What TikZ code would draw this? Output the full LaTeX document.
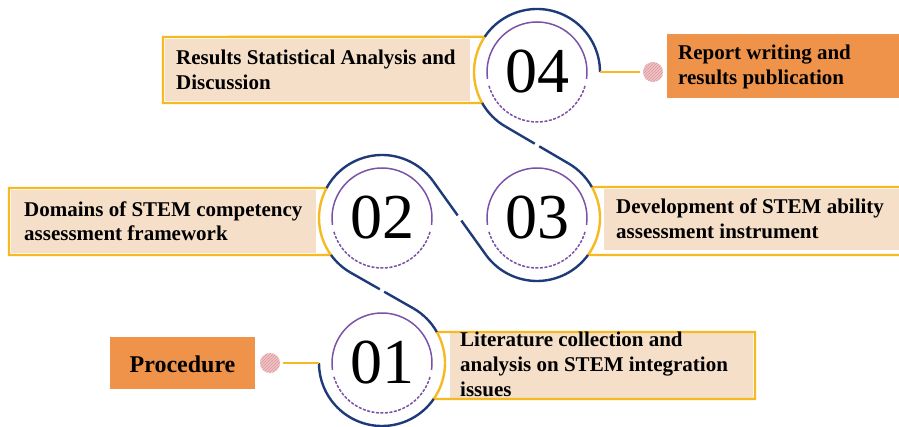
\documentclass[tikz,border=0pt]{standalone}
\usepackage{fontspec}
\setmainfont{Liberation Serif}
\usetikzlibrary{positioning,calc,patterns}
\definecolor{navy}{RGB}{30,58,120}
\definecolor{lilac}{RGB}{122,82,168}
\definecolor{gold}{RGB}{246,185,33}
\definecolor{beige}{RGB}{246,223,200}
\definecolor{tangerine}{RGB}{240,147,74}
\definecolor{rose}{RGB}{238,196,198}
\definecolor{rosedark}{RGB}{222,150,156}
\tikzset{lbl/.style={font=\fontsize{21}{25}\selectfont\bfseries, align=left, anchor=base west, inner sep=0pt},
  num/.style={font=\fontsize{64}{64}\selectfont, inner sep=0pt},
  ring/.style={navy, line width=2.4pt},
  brk/.style={gold, line width=2.4pt},
  halo/.style={lilac, line width=1.5pt},
  dot/.style={circle, minimum size=20pt, inner sep=0pt, fill=rose,
    postaction={pattern=north east lines, pattern color=rosedark}}}

\begin{document}
\begin{tikzpicture}[x=1pt,y=1pt]
\useasboundingbox (0,0) rectangle (899,426);
\coordinate (c1) at (382,63);
\coordinate (c2) at (382,208);
\coordinate (c3) at (537,208);
\coordinate (c4) at (537,354);

\fill[beige] (165,325) rectangle (470,387);
\fill[beige] (11,173) rectangle (316,236);
\fill[beige] (604,176) rectangle (899,237);
\fill[beige] (450,28) rectangle (753,93);
\fill[tangerine] (667,328) rectangle (899,392);
\fill[tangerine] (110,37) rectangle (255,89);

\draw[brk] (163,389) -- ($(c4)+(146:63)$) arc[start angle=146, end angle=209.5, radius=63] -- (163,323) -- cycle;
\draw[brk] (9,238) -- ($(c2)+(151.6:63)$) arc[start angle=151.6, end angle=216, radius=63] -- (9,171) -- cycle;
\draw[brk] (899,239) -- ($(c3)+(29.5:63)$) arc[start angle=29.5, end angle=-36, radius=63] -- (899,171);
\draw[brk] (755,94) -- ($(c1)+(29.5:63)$) arc[start angle=29.5, end angle=-34.8, radius=63] -- (755,27) -- cycle;

\coordinate (s1) at ($(c1)+(180:63)$);
\coordinate (b2) at ($(c2)+(240:63)$);
\coordinate (b3) at ($(c3)+(215.6:63)$);
\coordinate (b4) at ($(c4)+(240:63)$);
\draw[ring] (s1) arc[start angle=180, end angle=325.2, radius=63];
\draw[ring] ($(c1)+(29.5:63)$) arc[start angle=29.5, end angle=60, radius=63] coordinate (a1);
\draw[ring] (b2) arc[start angle=240, end angle=216, radius=63];
\draw[ring] ($(c2)+(151.6:63)$) arc[start angle=151.6, end angle=35.6, radius=63] coordinate (a2);
\draw[ring] (b3) arc[start angle=215.6, end angle=324, radius=63];
\draw[ring] ($(c3)+(29.5:63)$) arc[start angle=29.5, end angle=60, radius=63] coordinate (a3);
\draw[ring] (b4) arc[start angle=240, end angle=209.5, radius=63];
\draw[ring] ($(c4)+(146:63)$) arc[start angle=146, end angle=0, radius=63] coordinate (e4);
\foreach \p/\q in {a1/b2, a2/b3, a3/b4} {
  \draw[ring] (\p) -- ($(\p)!0.465!(\q)$);
  \draw[ring] ($(\p)!0.535!(\q)$) -- (\q);
}

\foreach \c in {c1,c2,c3,c4} {
  \draw[halo] ($(\c)+(-8:50)$) arc[start angle=-8, end angle=188, radius=50];
  \draw[halo, dash pattern=on 3pt off 1.5pt] ($(\c)+(196:50)$) arc[start angle=196, end angle=344, radius=50];
}
\node[num] (n1) at (c1) {01};
\node[num] (n2) at (c2) {02};
\node[num] (n3) at (c3) {03};
\node[num] (n4) at (c4) {04};

\node[dot] (d4) at (653,354) {};
\node[dot] (d1) at (270,63) {};
\draw[brk, shorten >=3pt] (e4) -- (d4);
\draw[brk, shorten <=3pt] (d1) -- (s1);

\node[lbl] (t4) at (176,336) {Results Statistical Analysis and\\Discussion};
\node[lbl] (t5) at (678,341) {Report writing and\\results publication};
\node[lbl] (t2) at (24,185) {Domains of STEM competency\\assessment framework};
\node[lbl] (t3) at (616,187) {Development of STEM ability\\assessment instrument};
\node[lbl] (t1) at (460,30) {Literature collection and\\analysis on STEM integration\\issues};
\node[lbl, anchor=base, font=\fontsize{24}{28}\selectfont\bfseries] (pr) at (182.5,54) {Procedure};
\end{tikzpicture}
\end{document}
